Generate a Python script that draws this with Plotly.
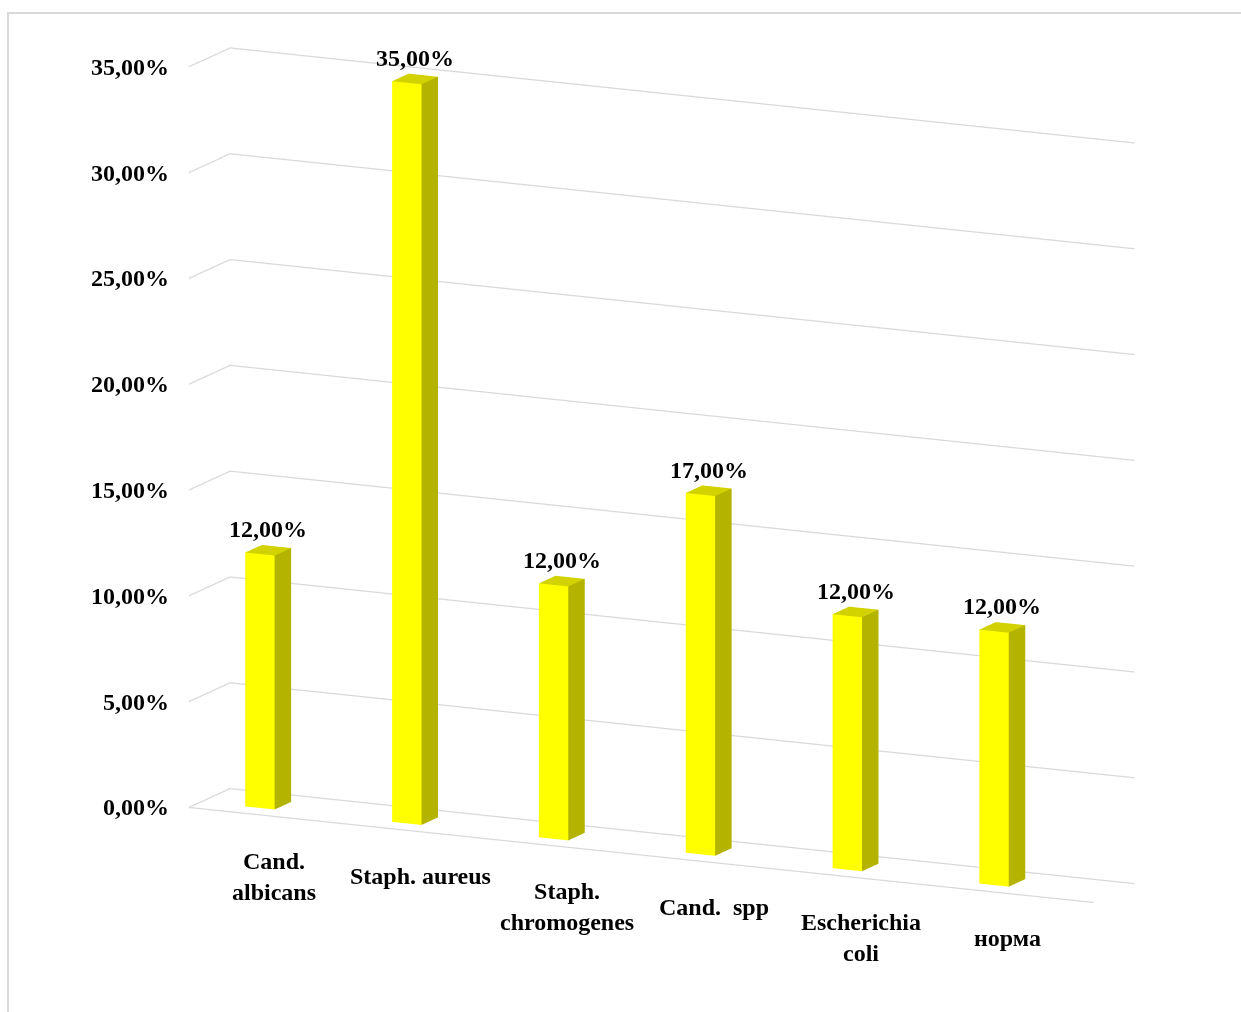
import plotly.graph_objects as go

# ---------------- data ----------------
categories = ["Cand.<br>albicans", "Staph. aureus", "Staph.<br>chromogenes",
              "Cand.\u00a0 spp", "Escherichia<br>coli", "норма"]
values = [12, 35, 12, 17, 12, 12]
value_labels = ["12,00%", "35,00%", "12,00%", "17,00%", "12,00%", "12,00%"]
tick_values = [0, 5, 10, 15, 20, 25, 30, 35]
tick_labels = ["0,00%", "5,00%", "10,00%", "15,00%", "20,00%", "25,00%", "30,00%", "35,00%"]

# ---------------- style ----------------
FONT = "Liberation Serif, Times New Roman, serif"
FS = 24
GRID = "#D9D9D9"
FRONT = "#FFFF00"
SIDE = "#B3B300"
TOP = "#D2D200"

X0, X1 = -0.4, 5.76      # wall extent along categories
Y0, Y1 = 0.0, 1.0        # depth of floor
BW = 0.2                 # bar width
BY0, BY1 = 0.3, 0.7      # bar depth span
XR = [-0.5, 5.86]
YR = [-0.1, 1.1]
ZR = [-7, 37]
PX_X, PX_Y, PX_Z = 0.163 * 1.88 * 1.05, 0.095 * 1.88 * 1.1 * 0.96, 0.0228 * 1.88

fig = go.Figure()

# gridlines (side wall + back wall) and floor
gx, gy, gz = [], [], []
for t in tick_values:
    gx += [X0, X0, X1, None]
    gy += [Y0, Y1, Y1, None]
    gz += [t, t, t, None]
gx += [X0, X1, None]
gy += [Y0, Y0, None]
gz += [0, 0, None]
fig.add_trace(go.Scatter3d(x=gx, y=gy, z=gz, mode="lines",
                           line=dict(color=GRID, width=2.5),
                           hoverinfo="skip", showlegend=False))

# bars as boxes
vx, vy, vz, I, J, K, fc = [], [], [], [], [], [], []
for idx, v in enumerate(values):
    xl, xr = idx - BW / 2, idx + BW / 2
    b = len(vx)
    pts = [(xl, BY0, 0), (xr, BY0, 0), (xr, BY0, v), (xl, BY0, v),
           (xl, BY1, 0), (xr, BY1, 0), (xr, BY1, v), (xl, BY1, v)]
    for p in pts:
        vx.append(p[0]); vy.append(p[1]); vz.append(p[2])
    tris = [((0, 1, 2), FRONT), ((0, 2, 3), FRONT),
            ((1, 5, 6), SIDE), ((1, 6, 2), SIDE),
            ((3, 2, 6), TOP), ((3, 6, 7), TOP)]
    for (a, c, d), col in tris:
        I.append(b + a); J.append(b + c); K.append(b + d); fc.append(col)
fig.add_trace(go.Mesh3d(x=vx, y=vy, z=vz, i=I, j=J, k=K, facecolor=fc,
                        flatshading=True,
                        lighting=dict(ambient=1, diffuse=0, specular=0,
                                      roughness=1, fresnel=0),
                        hoverinfo="skip", showlegend=False))

ann = []
for t, lab in zip(tick_values, tick_labels):
    ann.append(dict(x=X0, y=Y0, z=t, text=f"<b>{lab}</b>", showarrow=False,
                    xanchor="right", yanchor="middle", xshift=-18,
                    font=dict(family=FONT, size=FS, color="#000")))
for idx, (v, lab) in enumerate(zip(values, value_labels)):
    ann.append(dict(x=idx, y=(BY0 + BY1) / 2, z=v, text=f"<b>{lab}</b>",
                    showarrow=False, xanchor="center", yanchor="bottom",
                    yshift=6, font=dict(family=FONT, size=FS, color="#000")))
for idx, cat in enumerate(categories):
    ann.append(dict(x=idx, y=Y0, z=0, text=f"<b>{cat}</b>", showarrow=False,
                    xanchor="center", yanchor="top", xshift=26, yshift=-32,
                    font=dict(family=FONT, size=FS, color="#000")))

R = 3.0
EYE = (0.3955, -0.8883, 0.2334)
hidden = dict(visible=False, showspikes=False)
fig.update_layout(
    width=1241, height=1012,
    margin=dict(l=0, r=0, t=0, b=0),
    paper_bgcolor="white",
    scene=dict(
        domain=dict(x=[0, 1], y=[0, 1]),
        xaxis=dict(hidden, range=XR),
        yaxis=dict(hidden, range=YR),
        zaxis=dict(hidden, range=ZR),
        aspectmode="manual",
        aspectratio=dict(x=(XR[1] - XR[0]) * PX_X, y=(YR[1] - YR[0]) * PX_Y,
                         z=(ZR[1] - ZR[0]) * PX_Z),
        camera=dict(projection=dict(type="orthographic"),
                    eye=dict(x=EYE[0] * R, y=EYE[1] * R, z=EYE[2] * R),
                    center=dict(x=-0.075, y=-0.032, z=0.044),
                    up=dict(x=0, y=0, z=1)),
        annotations=ann,
        bgcolor="white",
    ),
    shapes=[dict(type="rect", xref="paper", yref="paper",
                 x0=8 / 1241, x1=1.02, y0=-0.02, y1=1 - 13 / 1012,
                 line=dict(color="#D9D9D9", width=2), layer="above")],
)

fig.write_html("out.html", config=dict(displayModeBar=False))
